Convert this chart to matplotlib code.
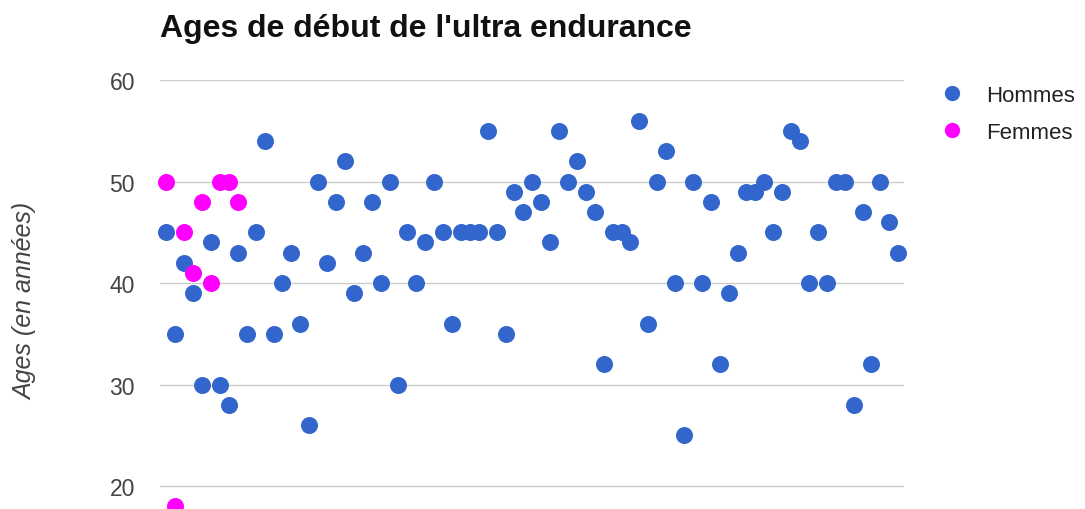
import matplotlib
matplotlib.use("Agg")
import matplotlib.pyplot as plt
from matplotlib.lines import Line2D

plt.rcParams['font.family'] = ['Liberation Sans', 'DejaVu Sans']

# ages de debut, une valeur par personne (ordre de l'axe x)
hommes = [45, 35, 42, 39, 30, 44, 30, 28, 43, 35, 45, 54, 35, 40, 43, 36, 26, 50, 42, 48,
          52, 39, 43, 48, 40, 50, 30, 45, 40, 44, 50, 45, 36, 45, 45, 45, 55, 45, 35, 49,
          47, 50, 48, 44, 55, 50, 52, 49, 47, 32, 45, 45, 44, 56, 36, 50, 53, 40, 25, 50,
          40, 48, 32, 39, 43, 49, 49, 50, 45, 49, 55, 54, 40, 45, 40, 50, 50, 28, 47, 32,
          50, 46, 43]
femmes = [50, 18, 45, 41, 48, 40, 50, 50, 48]
yticks = [20, 30, 40, 50, 60]

blue = "#3366cc"
pink = "#ff00ff"

fig = plt.figure(figsize=(10.85, 5.1), dpi=100)
ax = fig.add_axes([160 / 1085, 0.0, 744 / 1085, 1 - 81 / 510])

ax.scatter(range(len(hommes)), hommes, s=150, color=blue, linewidths=0, zorder=3, clip_on=False)
ax.scatter(range(len(femmes)), femmes, s=150, color=pink, linewidths=0, zorder=4, clip_on=False)

ax.set_xlim(-0.72, len(hommes) - 1 + 0.65)
ax.set_ylim(17.75, 60)
ax.set_yticks(yticks)
ax.set_xticks([])
ax.grid(axis="y", color="#cccccc", linewidth=1)
ax.set_axisbelow(True)
for s in ax.spines.values():
    s.set_visible(False)
ax.tick_params(axis="y", length=0, pad=18, labelsize=16.5, labelcolor="#444444")

fig.text(160 / 1085, 1 - 37 / 510, "Ages de début de l'ultra endurance",
         fontsize=23, fontweight="bold", color="#111111", va="baseline", ha="left")
fig.text(25 / 1085, 1 - 301 / 510, "Ages (en années)", rotation=90, style="italic",
         fontsize=18, color="#444444", ha="center", va="center")

handles = [Line2D([], [], marker="o", linestyle="", markersize=11, color=blue, markeredgewidth=0),
           Line2D([], [], marker="o", linestyle="", markersize=11, color=pink, markeredgewidth=0)]
fig.legend(handles, ["Hommes", "Femmes"], loc="upper left",
           bbox_to_anchor=(919 / 1085, 1 - 66 / 510), frameon=False, fontsize=16,
           labelcolor="#222222", handletextpad=0.93, labelspacing=0.72, handlelength=1.2)

fig.savefig("out.png", dpi=100)
